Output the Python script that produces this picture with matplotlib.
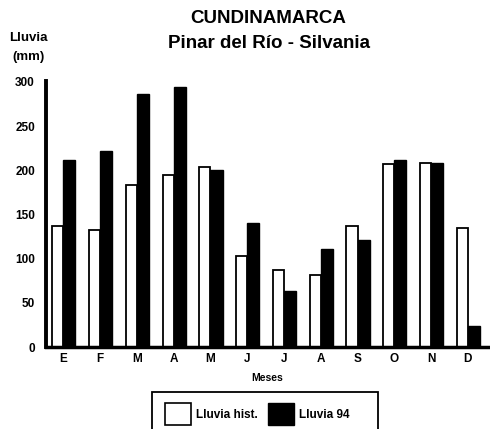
import numpy as np
import matplotlib.pyplot as plt
from matplotlib.patches import Patch, Rectangle

plt.rcParams['font.family'] = ['Liberation Sans', 'DejaVu Sans']
plt.rcParams['font.weight'] = 'bold'

# Datos
meses = ["E", "F", "M", "A", "M", "J", "J", "A", "S", "O", "N", "D"]
lluvia_hist = [137, 132, 183, 195, 204, 103, 87, 81, 137, 207, 208, 135]
lluvia_94 = [212, 222, 286, 294, 200, 140, 63, 111, 121, 212, 208, 24]

x = np.arange(len(meses))

fig = plt.figure(figsize=(4.9, 4.29), dpi=100)
ax = fig.add_axes([0.094, 0.191, 0.902, 0.62])

ax.bar(x - 0.15, lluvia_hist, width=0.30, color="white", edgecolor="black", linewidth=1.3)
ax.bar(x + 0.165, lluvia_94, width=0.33, color="black", edgecolor="black", linewidth=1.0)

ax.set_xlim(-0.47, 11.55)
ax.set_ylim(0, 301)
ax.set_xticks(x)
ax.set_xticklabels(meses, fontsize=8.5, fontweight="bold")
ax.set_yticks(range(0, 301, 50))
ax.set_yticklabels([str(v) for v in range(0, 301, 50)], fontsize=8.5, fontweight="bold")
ax.tick_params(axis="both", length=0, pad=8)
ax.tick_params(axis="x", pad=4)

for s in ["top", "right"]:
    ax.spines[s].set_visible(False)
ax.spines["left"].set_linewidth(2.8)
ax.spines["bottom"].set_linewidth(2.5)

ax.set_xlabel("Meses", fontsize=7.5, fontweight="bold", labelpad=6)

# Títulos
fig.text(0.548, 0.957, "CUNDINAMARCA", ha="center", va="center", fontsize=13.5, fontweight="bold")
fig.text(0.548, 0.899, "Pinar del Río - Silvania", ha="center", va="center", fontsize=13.5, fontweight="bold")
fig.text(0.058, 0.911, "Lluvia", ha="center", va="center", fontsize=9.5, fontweight="bold")
fig.text(0.058, 0.866, "(mm)", ha="center", va="center", fontsize=9.5, fontweight="bold")

# Leyenda
fig.patches.append(Rectangle((0.311, -0.05), 0.461, 0.136, transform=fig.transFigure,
                             facecolor="white", edgecolor="black", linewidth=1.3, zorder=0))
handles = [Patch(facecolor="white", edgecolor="black", linewidth=1.2),
           Patch(facecolor="black", edgecolor="black")]
leg = fig.legend(handles, ["Lluvia hist.", "Lluvia 94"], ncol=2, loc="upper left",
                 bbox_to_anchor=(0.318, 0.082), fontsize=8.5, frameon=False,
                 handlelength=2.2, handleheight=2.5, columnspacing=0.9, handletextpad=0.4,
                 borderpad=0.3)
for t in leg.get_texts():
    t.set_fontweight("bold")

fig.savefig("out.png", dpi=100)
